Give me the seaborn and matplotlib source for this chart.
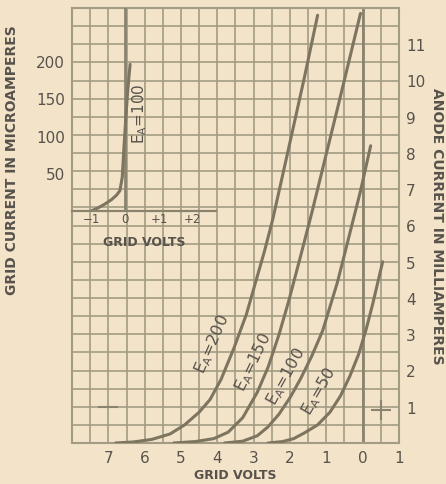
import numpy as np
import pandas as pd
import seaborn as sns
import matplotlib.pyplot as plt

# anode current (mA) against grid volts, one list per anode voltage
grid_v_200 = [-6.8, -6.3, -5.8, -5.3, -4.9, -4.5, -4.2, -3.9, -3.55, -3.2, -3.0, -2.7,
              -2.48, -2.2, -1.9, -1.6, -1.24]
anode_ma_200 = [0.0, 0.03, 0.1, 0.25, 0.5, 0.85, 1.2, 1.75, 2.6, 3.55, 4.25, 5.3,
                6.15, 7.4, 8.75, 10.1, 11.8]
grid_v_150 = [-5.2, -4.6, -4.1, -3.7, -3.3, -2.9, -2.6, -2.3, -2.04, -1.71, -1.4,
              -1.02, -0.7, -0.47, -0.06]
anode_ma_150 = [0.0, 0.04, 0.12, 0.3, 0.7, 1.4, 2.1, 3.0, 3.9, 5.15, 6.35,
                7.9, 9.2, 10.15, 11.85]
grid_v_100 = [-3.8, -3.3, -2.9, -2.6, -2.3, -2.0, -1.71, -1.4, -1.1, -0.69, -0.4, -0.06, 0.22]
anode_ma_100 = [0.0, 0.05, 0.2, 0.45, 0.8, 1.25, 1.77, 2.4, 3.1, 4.45, 5.6, 6.95, 8.2]
grid_v_50 = [-2.6, -2.2, -1.9, -1.6, -1.24, -0.9, -0.61, -0.35, -0.11, 0.1, 0.28, 0.55]
anode_ma_50 = [0.0, 0.04, 0.12, 0.28, 0.5, 0.85, 1.3, 1.85, 2.45, 3.15, 3.85, 5.0]

# inset: grid current (microamperes) at Ea = 100
inset_v = [-1.0, -0.8, -0.6, -0.4, -0.25, -0.15, -0.08, -0.03, 0.02, 0.08, 0.15]
inset_ua = [0, 4, 9, 15, 21, 27, 45, 85, 120, 160, 195]

x_ticks = [-7, -6, -5, -4, -3, -2, -1, 0, 1]
x_tick_labels = ['7', '6', '5', '4', '3', '2', '1', '0', '1']
anode_ticks = list(range(1, 12))
ua_ticks = [50, 100, 150, 200]
inset_x_ticks = [-1, 0, 1, 2]
inset_x_labels = ['\u22121', '0', '+1', '+2']

labels = ['200', '150', '100', '50']

paper = '#f3e3c9'
grid_col = '#a39c84'
ink = '#7d7560'
text_col = '#57534c'

sns.set_style('white', {'axes.facecolor': paper, 'figure.facecolor': paper})
plt.rcParams['font.family'] = ['DejaVu Sans']

curves = pd.concat([
    pd.DataFrame({'v': grid_v_200, 'ma': anode_ma_200, 'ea': '200'}),
    pd.DataFrame({'v': grid_v_150, 'ma': anode_ma_150, 'ea': '150'}),
    pd.DataFrame({'v': grid_v_100, 'ma': anode_ma_100, 'ea': '100'}),
    pd.DataFrame({'v': grid_v_50, 'ma': anode_ma_50, 'ea': '50'}),
])

fig = plt.figure(figsize=(4.46, 4.85), dpi=100)
ax = fig.add_axes([72 / 446, 41 / 485, 327 / 446, 435 / 485])

# half-volt / half-mA squared paper
for gx in np.arange(-8, 1.01, 0.5):
    ax.axvline(gx, color=grid_col, lw=1.2, zorder=1)
for gy in np.arange(0, 12.01, 0.5):
    ax.axhline(gy, color=grid_col, lw=1.2, zorder=1)
ax.axvline(0, color='#8a846f', lw=2.0, zorder=1)

sns.lineplot(data=curves, x='v', y='ma', hue='ea', palette=[ink] * 4,
             linewidth=2.2, legend=False, ax=ax, zorder=3)

ax.set_xlim(-8, 1)
ax.set_ylim(0, 12)
ax.set_xticks(x_ticks)
ax.set_xticklabels(x_tick_labels)
ax.tick_params(axis='x', length=0, pad=5, labelsize=11, labelcolor=text_col)
ax.set_xlabel('GRID VOLTS', fontsize=9, fontweight='bold', color=text_col, labelpad=2)
ax.set_ylabel('')
ax.yaxis.tick_right()
ax.set_yticks(anode_ticks)
ax.tick_params(axis='y', length=0, pad=5, labelsize=11, labelcolor=text_col)
for s in ax.spines.values():
    s.set_color(grid_col)
    s.set_linewidth(1.5)

# curve labels
label_pos = [(-4.15, 2.75, 66), (-3.0, 2.25, 64), (-2.1, 1.85, 61), (-1.2, 1.45, 60)]
for lab, (lx, ly, rot) in zip(labels, label_pos):
    ax.text(lx, ly, r'E$_{\mathregular{A}}$=' + lab, rotation=rot, ha='center', va='center',
            fontsize=11.5, color=text_col, zorder=4, rotation_mode='anchor')

# registration marks
ax.plot([0.5], [0.9], marker='+', ms=14, mew=1.5, color='#8a846f', zorder=2)
ax.plot([-7.0], [1.0], marker='_', ms=14, mew=1.5, color='#8a846f', zorder=2)

# inset: grid current
axi = fig.add_axes([72 / 446, 273 / 485, 144 / 446, 203 / 485])
axi.patch.set_alpha(0)
sns.lineplot(x=inset_v, y=inset_ua, color=ink, linewidth=2.2, ax=axi)
axi.axvline(0, color='#8a846f', lw=2.0, zorder=1)
axi.set_xlim(-1.56, 2.68)
axi.set_ylim(0, 270)
axi.set_xticks(inset_x_ticks)
axi.set_xticklabels(inset_x_labels)
axi.set_yticks(ua_ticks)
axi.tick_params(axis='x', length=0, pad=1, labelsize=8.5, labelcolor=text_col)
axi.tick_params(axis='y', length=0, pad=5, labelsize=11, labelcolor=text_col)
for k in ['top', 'right', 'left']:
    axi.spines[k].set_visible(False)
axi.spines['bottom'].set_color('#8a846f')
axi.spines['bottom'].set_linewidth(1.6)
axi.set_xlabel('GRID VOLTS', fontsize=9, fontweight='bold', color=text_col, labelpad=7)
axi.text(0.42, 130, r'E$_{\mathregular{A}}$=100', rotation=90, ha='center', va='center',
         fontsize=11, color=text_col)

fig.text(12 / 446, 1 - 160 / 485, 'GRID CURRENT IN MICROAMPERES', rotation=90,
         ha='center', va='center', fontsize=10, fontweight='bold', color=text_col)
fig.text(437 / 446, 1 - 226 / 485, 'ANODE CURRENT IN MILLIAMPERES', rotation=-90,
         ha='center', va='center', fontsize=10, fontweight='bold', color=text_col)

fig.savefig('out.png', dpi=100, facecolor=paper)
